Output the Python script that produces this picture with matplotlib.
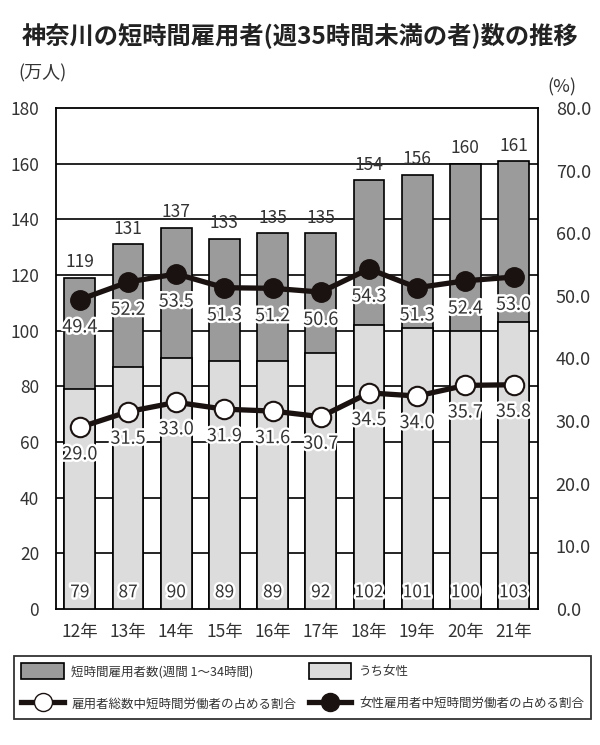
import matplotlib.pyplot as plt
import matplotlib.patheffects as pe
from matplotlib.lines import Line2D
from matplotlib.patches import Patch

plt.rcParams['font.family'] = ['Noto Sans CJK JP', 'DejaVu Sans']

# データ
years = ['12年', '13年', '14年', '15年', '16年', '17年', '18年', '19年', '20年', '21年']
total = [119, 131, 137, 133, 135, 135, 154, 156, 160, 161]
female = [79, 87, 90, 89, 89, 92, 102, 101, 100, 103]
rate_all = [29.0, 31.5, 33.0, 31.9, 31.6, 30.7, 34.5, 34.0, 35.7, 35.8]
rate_female = [49.4, 52.2, 53.5, 51.3, 51.2, 50.6, 54.3, 51.3, 52.4, 53.0]

dark = '#9b9b9b'
light = '#dcdcdc'
txt = '#333333'
ink = '#1a1210'
stroke = [pe.withStroke(linewidth=3.5, foreground='white')]

fig = plt.figure(figsize=(6, 7.45), dpi=100)
ax = fig.add_axes([0.093, 0.1826, 0.803, 0.6725])
x = list(range(len(years)))

# 横線(背面)
for v in range(20, 180, 20):
    ax.axhline(v, color='black', lw=1.2, zorder=0)

ax.bar(x, total, width=0.64, color=dark, edgecolor='black', lw=1.2, zorder=2)
ax.bar(x, female, width=0.64, color=light, edgecolor='black', lw=1.2, zorder=3)

for i in x:
    ax.annotate(str(total[i]), (i, total[i]), xytext=(0, 11), textcoords='offset points',
                ha='center', va='center', fontsize=12.5, color=txt, zorder=6)
    ax.annotate(str(female[i]), (i, 0), xytext=(0, 12), textcoords='offset points',
                ha='center', va='center', fontsize=12.5, color=txt, zorder=6,
                path_effects=stroke)

ax.set_xlim(-0.5, len(years) - 0.5)
ax.set_ylim(0, 180)
ax.set_yticks(range(0, 181, 20))
ax.set_xticks(x)
ax.set_xticklabels(years)
ax.tick_params(axis='x', length=0, labelsize=12.5, colors=txt, pad=10)
ax.tick_params(axis='y', length=0, labelsize=12.5, colors=txt, pad=12)
for s in ax.spines.values():
    s.set_linewidth(1.3)

ax2 = ax.twinx()
ax2.set_ylim(0, 80)
ax2.set_yticks(range(0, 81, 10))
ax2.set_yticklabels([f'{v:.1f}' for v in range(0, 81, 10)])
ax2.tick_params(length=0, labelsize=13, colors=txt, pad=13)
ax2.spines[:].set_visible(False)

ax2.plot(x, rate_female, color=ink, lw=3.8, marker='o', ms=14,
         mfc=ink, mec=ink, zorder=5)
ax2.plot(x, rate_all, color=ink, lw=3.8, marker='o', ms=14,
         mfc='white', mec=ink, mew=1.5, zorder=5)
for i in x:
    ax2.annotate(f'{rate_female[i]:.1f}', (i, rate_female[i]), xytext=(0, -20),
                 textcoords='offset points', ha='center', va='center', fontsize=13,
                 color=txt, path_effects=stroke, zorder=7)
    ax2.annotate(f'{rate_all[i]:.1f}', (i, rate_all[i]), xytext=(0, -19.5),
                 textcoords='offset points', ha='center', va='center', fontsize=13,
                 color=txt, path_effects=stroke, zorder=7)

fig.text(0.5, 0.953, '神奈川の短時間雇用者(週35時間未満の者)数の推移', ha='center', va='center',
         fontsize=17.5, fontweight='bold', color='#222222')
fig.text(0.03, 0.902, '(万人)', ha='left', va='center', fontsize=13, color=txt)
fig.text(0.913, 0.883, '(%)', ha='left', va='center', fontsize=13, color=txt)

handles = [
    Patch(facecolor=dark, edgecolor='black', lw=1.2),
    Line2D([], [], color=ink, lw=3.8, marker='o', ms=13, mfc='white', mec=ink),
    Patch(facecolor=light, edgecolor='black', lw=1.2),
    Line2D([], [], color=ink, lw=3.8, marker='o', ms=13, mfc=ink, mec=ink),
]
labels = ['短時間雇用者数(週間 1～34時間)', '雇用者総数中短時間労働者の占める割合',
          'うち女性', '女性雇用者中短時間労働者の占める割合']
leg = fig.legend(handles, labels, ncol=2, loc='upper left', bbox_to_anchor=(0.0233, 0.1195),
                 fontsize=9, frameon=True, fancybox=False, edgecolor='black',
                 handlelength=3.4, handleheight=1.5, handletextpad=0.6,
                 labelspacing=1.4, columnspacing=1.0, borderpad=0.6, borderaxespad=0)
leg.get_frame().set_linewidth(1.3)
for t in leg.get_texts():
    t.set_color(txt)

fig.savefig('out.png', dpi=100)
